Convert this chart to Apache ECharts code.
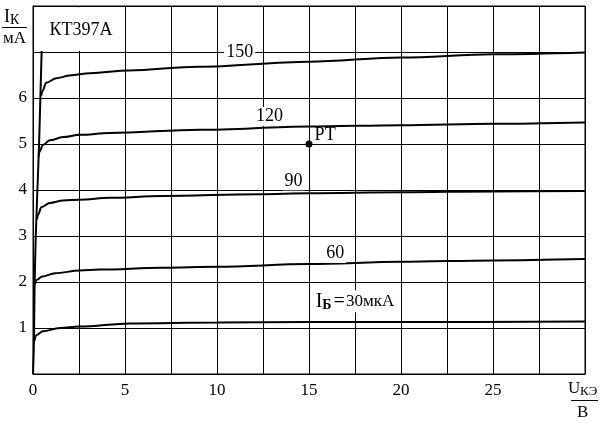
<!DOCTYPE html>
<html>
<head>
<meta charset="utf-8">
<script src="https://cdn.jsdelivr.net/npm/echarts@6/dist/echarts.min.js"></script>
<style>html,body{margin:0;padding:0;background:#fff;}#c{width:607px;height:423px;}</style>
</head>
<body>
<div id="c"></div>
<script>
// Base current labels (мкА)
const baseCurrents = ['30', '60', '90', '120', '150'];
// Output characteristics: [U_КЭ (В), I_К (мА)]
const curve30 = [[0.07,0.72],[0.2,0.85],[0.54,0.93],[1.45,1.0],[2.54,1.03],[5.26,1.1],[10,1.12],[15,1.13],[20,1.13],[30,1.14]];
const curve60 = [[0.1,1.95],[0.22,2.05],[0.5,2.12],[1.2,2.19],[2.54,2.25],[3.62,2.27],[7,2.31],[10,2.33],[15,2.39],[20,2.44],[25,2.47],[30,2.5]];
const curve90 = [[0.22,3.36],[0.27,3.46],[0.46,3.63],[0.91,3.72],[1.63,3.77],[2.54,3.79],[4.17,3.83],[7,3.87],[12.3,3.91],[15,3.93],[20,3.95],[25,3.97],[30,3.98]];
const curve120 = [[0.3,4.72],[0.36,4.84],[0.54,4.98],[0.91,5.08],[1.63,5.15],[2.54,5.2],[4.17,5.24],[9.06,5.31],[15,5.38],[20,5.41],[25,5.44],[30,5.47]];
const curve150 = [[0.45,6.05],[0.5,6.14],[0.72,6.33],[1.27,6.43],[2.0,6.49],[3.1,6.54],[5.2,6.6],[9,6.68],[15,6.79],[20,6.88],[25,6.95],[30,6.99]];
const envelope = [[0,0],[0.04,0.5],[0.06,1],[0.09,2],[0.15,3],[0.24,4],[0.33,5],[0.4,6],[0.47,7.02]];
const operatingPoint = [[15, 5]];
const xTickLabels = ['0','5','10','15','20','25'];
const yTickLabels = ['1','2','3','4','5','6'];

const FONT = 'Liberation Serif';
const chart = echarts.init(document.getElementById('c'), null, {renderer: 'canvas'});

function curveSeries(name, data, labelCoord, labelText) {
  return {
    name: name,
    type: 'line',
    data: data,
    showSymbol: false,
    smooth: 0.35,
    smoothMonotone: 'x',
    lineStyle: {color: '#000', width: 2},
    z: 3,
    silent: true,
    markPoint: labelText ? {
      symbol: 'rect', symbolSize: 0, silent: true,
      data: [{coord: labelCoord, value: labelText}],
      label: {show: true, position: 'inside', formatter: labelText, color: '#000', textBorderWidth: 0,
        fontFamily: FONT, fontSize: 18, backgroundColor: '#fff', padding: [1, 2, 0, 2]}
    } : undefined
  };
}

const option = {
  animation: false,
  backgroundColor: '#fff',
  grid: {left: 33, right: 22, top: 6, bottom: 49, show: true, borderColor: '#000', borderWidth: 1},
  xAxis: {
    type: 'value', min: 0, max: 30, interval: 2.5,
    axisLine: {show: true, lineStyle: {color: '#000', width: 1}},
    axisTick: {show: false},
    splitLine: {show: true, lineStyle: {color: '#000', width: 1}},
    axisLabel: {
      color: '#000', fontFamily: FONT, fontSize: 17, margin: 8,
      formatter: function (v) { const s = String(v); return xTickLabels.indexOf(s) >= 0 ? s : ''; }
    }
  },
  yAxis: {
    type: 'value', min: 0, max: 8, interval: 1,
    axisLine: {show: true, lineStyle: {color: '#000', width: 1}},
    axisTick: {show: false},
    splitLine: {show: true, lineStyle: {color: '#000', width: 1}},
    axisLabel: {
      color: '#000', fontFamily: FONT, fontSize: 17, margin: 6,
      formatter: function (v) { const s = String(v); return yTickLabels.indexOf(s) >= 0 ? s : ''; }
    }
  },
  series: [
    {
      name: 'envelope', type: 'line', data: envelope, showSymbol: false, smooth: 0.2,
      lineStyle: {color: '#000', width: 2}, z: 3, silent: true,
      markArea: {
        silent: true,
        itemStyle: {color: '#fff', borderWidth: 0, opacity: 1},
        label: {show: true, position: 'inside', offset: [2, 1], color: '#000', textBorderWidth: 0, fontFamily: FONT, fontSize: 18},
        data: [[{coord: [0.06, 7.025], name: 'КТ397А'}, {coord: [4.94, 7.975]}]]
      }
    },
    curveSeries('30', curve30, null, null),
    curveSeries('60', curve60, [16.42, 2.62], baseCurrents[1]),
    curveSeries('90', curve90, [14.16, 4.2], baseCurrents[2]),
    curveSeries('120', curve120, [12.86, 5.6], baseCurrents[3]),
    curveSeries('150', curve150, [11.23, 7.0], baseCurrents[4]),
    {
      name: 'РТ', type: 'scatter', data: operatingPoint, symbol: 'circle', symbolSize: 7,
      itemStyle: {color: '#000', opacity: 1}, z: 4, silent: true,
      label: {show: true, formatter: 'РТ', position: 'right', distance: 2, offset: [0, -9], opacity: 1,
        color: '#000', textBorderWidth: 0, fontFamily: FONT, fontSize: 18}
    },
    {
      name: 'ib30label', type: 'scatter', data: [[15.31, 1.58]], symbolSize: 0, z: 4, silent: true,
      itemStyle: {opacity: 1},
      label: {show: true, position: 'right', distance: 0, color: '#000', textBorderWidth: 0, fontFamily: FONT, opacity: 1,
        backgroundColor: '#fff', padding: [1, 2, 0, 1],
        formatter: '{i|I}{s|Б}{e|=}{n|' + baseCurrents[0] + '}{u|мкА}',
        rich: {
          i: {fontFamily: FONT, fontSize: 20, color: '#000'},
          s: {fontFamily: FONT, fontSize: 14, color: '#000', fontWeight: 'bold', padding: [7, 0, 0, 0]},
          e: {fontFamily: FONT, fontSize: 20, color: '#000', padding: [0, 1, 0, 2]},
          n: {fontFamily: FONT, fontSize: 17, color: '#000'},
          u: {fontFamily: FONT, fontSize: 17, color: '#000'}
        }
      }
    }
  ],
  graphic: [
    {type: 'text', left: 4, top: 8, style: {text: 'I', font: '18px "Liberation Serif"', fill: '#000'}},
    {type: 'text', left: 10, top: 13, style: {text: 'К', font: '14px "Liberation Serif"', fill: '#000'}},
    {type: 'line', shape: {x1: 2, y1: 27.5, x2: 27, y2: 27.5}, style: {stroke: '#000', lineWidth: 1}},
    {type: 'text', left: 3, top: 30, style: {text: 'мА', font: '17px "Liberation Serif"', fill: '#000'}},
    {type: 'text', left: 568, top: 380, style: {text: 'U', font: '17px "Liberation Serif"', fill: '#000'}},
    {type: 'text', left: 580, top: 385, style: {text: 'КЭ', font: '13px "Liberation Serif"', fill: '#000'}},
    {type: 'line', shape: {x1: 571, y1: 400.5, x2: 598, y2: 400.5}, style: {stroke: '#000', lineWidth: 1}},
    {type: 'text', left: 577, top: 404, style: {text: 'В', font: '17px "Liberation Serif"', fill: '#000'}}
  ]
};
chart.setOption(option);
</script>
</body>
</html>
